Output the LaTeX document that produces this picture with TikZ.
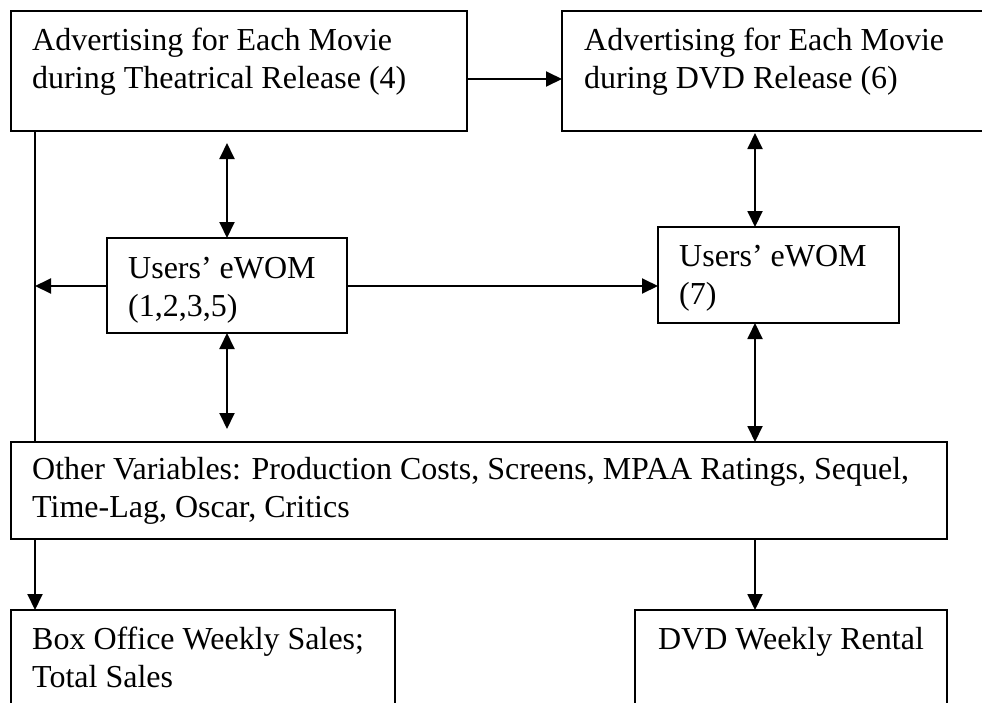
\documentclass[tikz,border=0pt]{standalone}
\usepackage{fontspec}
\setmainfont{Liberation Serif}
\usetikzlibrary{arrows.meta,calc}
\begin{document}
\begin{tikzpicture}[x=1pt,y=-1pt,
  box/.style={draw, line width=1.9pt, inner sep=0pt, outer sep=0pt, anchor=north west},
  lbl/.style={font=\fontsize{32}{38}\selectfont, align=left, inner sep=0pt, anchor=base west},
  conn/.style={line width=1.9pt},
  arr/.style={conn, -{Triangle[length=16pt,width=15pt]}},
  dbl/.style={conn, {Triangle[length=16pt,width=15pt]}-{Triangle[length=16pt,width=15pt]}}]
\useasboundingbox (0,0) rectangle (982,702);
\fill[white] (0,0) rectangle (982,702);
\clip (0,0) rectangle (982,702);
% boxes
\node[box, minimum width=456pt, minimum height=120pt] (A) at (11,11) {};
\node[box, minimum width=440pt, minimum height=120pt] (B) at (562,11) {};
\node[box, minimum width=240pt, minimum height=95pt] (C) at (107,238) {};
\node[box, minimum width=241pt, minimum height=96pt] (D) at (658,227) {};
\node[box, minimum width=936pt, minimum height=97pt] (O) at (11,442) {};
\node[box, minimum width=384pt, minimum height=120pt] (BO) at (11,610) {};
\node[box, minimum width=312pt, minimum height=120pt] (DV) at (635,610) {};
% labels (anchor at baseline of last line)
\node[lbl] (tA) at (32,88) {Advertising for Each Movie\\during Theatrical Release (4)};
\node[lbl] (tB) at (584,88) {Advertising for Each Movie\\during DVD Release (6)};
\node[lbl] (tC) at (128,316) {Users’ eWOM\\(1,2,3,5)};
\node[lbl] (tD) at (679,304) {Users’ eWOM\\(7)};
\node[lbl] (tO) at (32,517) {Other Variables: Production Costs, Screens, MPAA Ratings, Sequel,\\Time-Lag, Oscar, Critics};
\node[lbl] (tBO) at (32,687) {Box Office Weekly Sales;\\Total Sales};
\node[lbl, anchor=base] (tDV) at (791,649) {DVD Weekly Rental};
% connectors
\coordinate (L1) at (35,131);
\coordinate (L2) at (35,286);
\draw[arr] (A.east |- 0,79) -- (B.west |- 0,79);
\draw[conn] (L1) -- (L1 |- O.north);
\draw[arr] (L1 |- O.south) -- (L1 |- BO.north);
\draw[arr] (C.west |- L2) -- (L2);
\draw[dbl] ([yshift=-12pt]C.north |- A.south) -- (C.north);
\draw[dbl] (C.south) -- ([yshift=13pt]C.south |- O.north);
\draw[arr] (C.east |- L2) -- (D.west |- L2);
\coordinate (R1) at (755,133);
\draw[dbl] (R1) -- (R1 |- D.north);
\draw[dbl] (R1 |- D.south) -- (R1 |- O.north);
\draw[arr] (R1 |- O.south) -- (R1 |- DV.north);
\end{tikzpicture}
\end{document}
